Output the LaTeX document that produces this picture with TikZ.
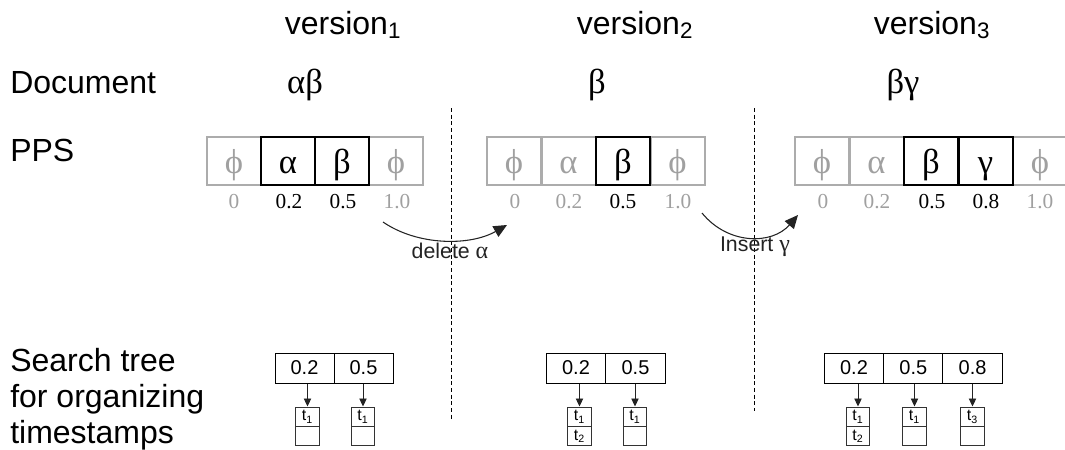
\documentclass[tikz,border=0pt]{standalone}
\usepackage{fontspec}
\setmainfont{Liberation Sans}
\newfontfamily\serifgr{Liberation Serif}
\usetikzlibrary{arrows.meta}
\definecolor{ppsgray}{RGB}{172,172,172}
\definecolor{lblgray}{RGB}{160,160,160}
\definecolor{ink}{RGB}{35,35,35}
\tikzset{
  rowlabel/.style={anchor=base west,font=\fontsize{24}{27}\selectfont,inner sep=0pt},
  verlabel/.style={anchor=base,font=\fontsize{24}{26}\selectfont,inner sep=0pt},
  doctext/.style={anchor=base,font=\serifgr\fontsize{26}{28}\selectfont,inner sep=0pt},
  ppscell/.style={draw,line width=1.5pt,minimum width=40.5pt,minimum height=36pt,inner sep=0pt,
    text height=19pt,text depth=1pt,font=\serifgr\fontsize{26}{28}\selectfont},
  cellgray/.style={ppscell,draw=ppsgray,text=lblgray},
  cellblack/.style={ppscell,draw=black,text=black},
  poslabel/.style={anchor=base,font=\serifgr\fontsize{16}{18}\selectfont,inner sep=0pt},
  posgray/.style={poslabel,text=lblgray},
  keycell/.style={draw=black,line width=0.75pt,minimum height=22.5pt,inner sep=0pt,
    font=\fontsize{15}{17}\selectfont},
  bucket/.style={draw=black!80,line width=0.75pt,minimum width=17.6pt,minimum height=14.6pt,
    inner sep=0pt,font=\fontsize{12}{14}\selectfont},
  tarrow/.style={draw=ink,line width=0.7pt,-{Triangle[length=6pt,width=5.5pt]}},
  oparrow/.style={draw=ink,line width=0.8pt,-{Triangle[length=10pt,width=9pt]}},
  oplabel/.style={font=\fontsize{16}{18}\selectfont,text=ink,inner sep=0pt},
  sep/.style={draw=black,line width=0.75pt,dash pattern=on 3pt off 2pt},
}
\begin{document}
\begin{tikzpicture}[x=0.75pt,y=-0.75pt]
\useasboundingbox (0,0) rectangle (1065,450);

% column headings
\node[verlabel] (v1) at (343,34) {version\textsubscript{1}};
\node[verlabel] (v2) at (635,34) {version\textsubscript{2}};
\node[verlabel] (v3) at (932,34) {version\textsubscript{3}};

% row headings
\node[rowlabel] (ldoc) at (10,93) {Document};
\node[rowlabel] (lpps) at (10,161) {PPS};
\node[rowlabel] (lst1) at (10,371) {Search tree};
\node[rowlabel] (lst2) at (10,407) {for organizing};
\node[rowlabel] (lst3) at (10,443) {timestamps};

% document contents
\node[doctext] (d1) at (305,93) {αβ};
\node[doctext] (d2) at (597,93) {β};
\node[doctext] (d3) at (903,93) {βγ};

% separators between versions
\coordinate (s1a) at (451,108); \coordinate (s1b) at (451,421);
\coordinate (s2a) at (754,108); \coordinate (s2b) at (754,411);
\draw[sep] (s1a) -- (s1b);
\draw[sep] (s2a) -- (s2b);

% PPS of version 1
\node[cellgray]  (p10) at (234,161) {ϕ};
\node[cellgray]  (p13) at (396,161) {ϕ};
\node[cellblack] (p11) at (288,161) {α};
\node[cellblack] (p12) at (342,161) {β};
\node[posgray]   (n10) at (234,208) {0};
\node[poslabel]  (n11) at (289,208) {0.2};
\node[poslabel]  (n12) at (343,208) {0.5};
\node[posgray]   (n13) at (397,208) {1.0};

% PPS of version 2
\node[cellgray]  (p20) at (514,161) {ϕ};
\node[cellgray]  (p21) at (568.5,161) {α};
\node[cellgray]  (p23) at (677.5,161) {ϕ};
\node[cellblack] (p22) at (623,161) {β};
\node[posgray]   (n20) at (515,208) {0};
\node[posgray]   (n21) at (569,208) {0.2};
\node[poslabel]  (n22) at (623,208) {0.5};
\node[posgray]   (n23) at (678,208) {1.0};

% PPS of version 3
\node[cellgray]  (p30) at (822,161) {ϕ};
\node[cellgray]  (p31) at (876.5,161) {α};
\node[cellgray]  (p34) at (1040,161) {ϕ};
\node[cellblack] (p32) at (931,161) {β};
\node[cellblack] (p33) at (985.5,161) {γ};
\node[posgray]   (n30) at (823,208) {0};
\node[posgray]   (n31) at (877,208) {0.2};
\node[poslabel]  (n32) at (932,208) {0.5};
\node[poslabel]  (n33) at (986,208) {0.8};
\node[posgray]   (n34) at (1040,208) {1.0};

% operations between versions
\coordinate (o1a) at (383,222); \coordinate (o1b) at (507,225);
\draw[oparrow] (o1a) .. controls (418,246) and (470,246) .. (o1b);
\node[oplabel] (op1) at (450,251) {delete {\serifgr\fontsize{18}{18}\selectfont α}};
\coordinate (o2a) at (702,213); \coordinate (o2b) at (798,215);
\draw[oparrow] (o2a) .. controls (728,245) and (772,245) .. (o2b);
\node[oplabel] (op2) at (755,247) {Insert {\serifgr\fontsize{18}{18}\selectfont γ}};

% search tree of version 1
\node[keycell,minimum width=44.25pt] (k11) at (304.5,368) {0.2};
\node[keycell,minimum width=44.25pt] (k12) at (363.5,368) {0.5};
\node[bucket] (b11) at (307.5,416.75) {t\textsubscript{1}};
\node[bucket] (b11x) at (307.5,436.25) {};
\node[bucket] (b12) at (363,416.75) {t\textsubscript{1}};
\node[bucket] (b12x) at (363,436.25) {};
\draw[tarrow] (k11.south -| b11.north) -- (b11.north);
\draw[tarrow] (k12.south -| b12.north) -- (b12.north);

% search tree of version 2
\node[keycell,minimum width=44.6pt] (k21) at (576,368) {0.2};
\node[keycell,minimum width=44.6pt] (k22) at (635.5,368) {0.5};
\node[bucket] (b21) at (579.5,416.75) {t\textsubscript{1}};
\node[bucket] (b21x) at (579.5,436.25) {t\textsubscript{2}};
\node[bucket] (b22) at (635,416.75) {t\textsubscript{1}};
\node[bucket] (b22x) at (635,436.25) {};
\draw[tarrow] (k21.south -| b21.north) -- (b21.north);
\draw[tarrow] (k22.south -| b22.north) -- (b22.north);

% search tree of version 3
\node[keycell,minimum width=44.5pt] (k31) at (854,368) {0.2};
\node[keycell,minimum width=44.5pt] (k32) at (913.3,368) {0.5};
\node[keycell,minimum width=44.5pt] (k33) at (972.6,368) {0.8};
\node[bucket] (b31) at (858,416.75) {t\textsubscript{1}};
\node[bucket] (b31x) at (858,436.25) {t\textsubscript{2}};
\node[bucket] (b32) at (914.5,416.75) {t\textsubscript{1}};
\node[bucket] (b32x) at (914.5,436.25) {};
\node[bucket] (b33) at (972.5,416.75) {t\textsubscript{3}};
\node[bucket] (b33x) at (972.5,436.25) {};
\draw[tarrow] (k31.south -| b31.north) -- (b31.north);
\draw[tarrow] (k32.south -| b32.north) -- (b32.north);
\draw[tarrow] (k33.south -| b33.north) -- (b33.north);
\end{tikzpicture}
\end{document}
